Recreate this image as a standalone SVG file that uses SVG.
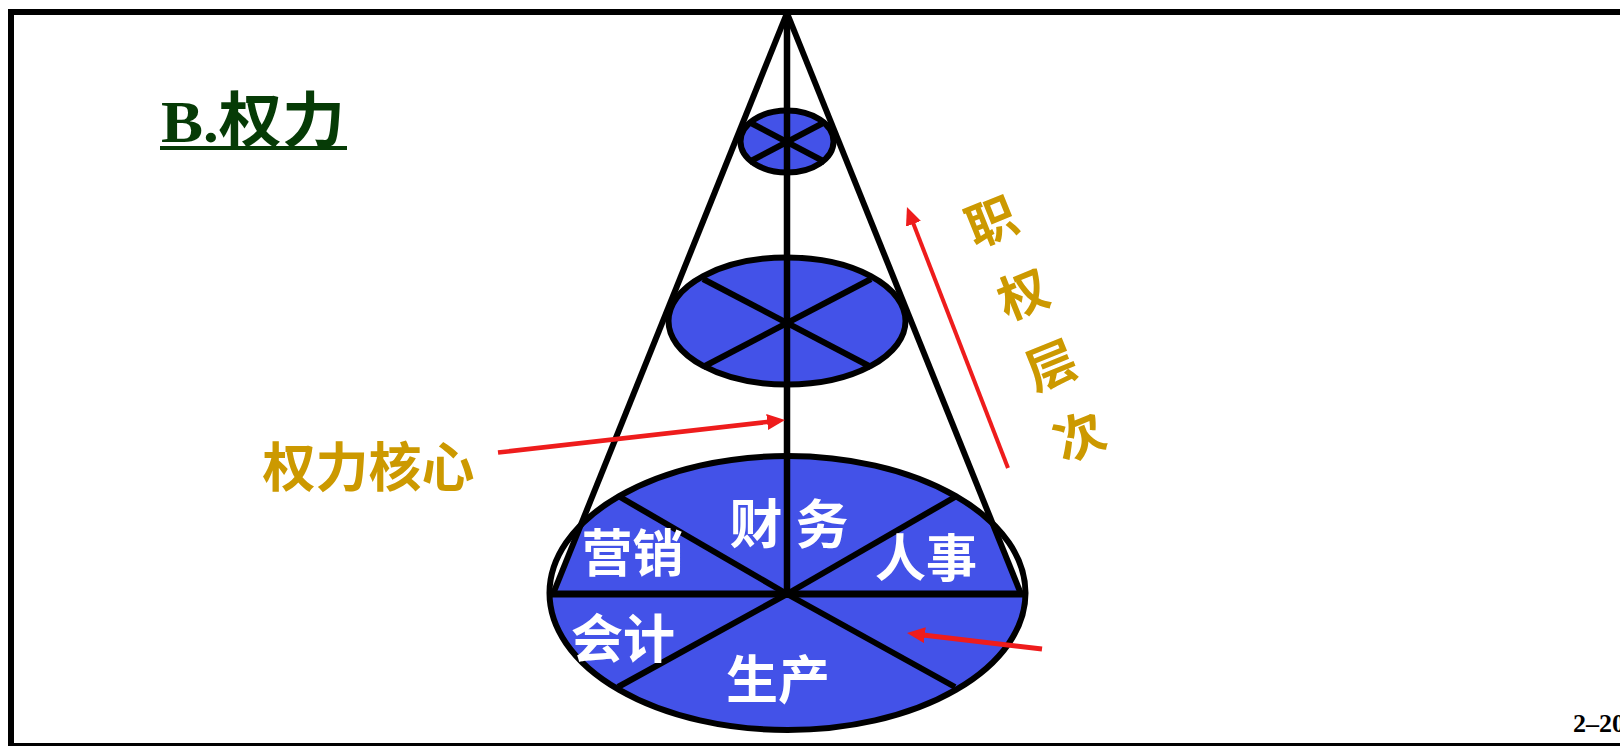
<svg xmlns="http://www.w3.org/2000/svg" width="1620" height="746" viewBox="0 0 1620 746">
<style>
.ol{stroke:#000;stroke-width:6;fill:none;stroke-linecap:butt}
.fill{fill:#4352E8}
.wt{font-family:"Noto Sans CJK SC","Noto Sans",sans-serif;font-weight:bold;fill:#FFFFFF;text-anchor:middle}
.gd{font-family:"Noto Sans CJK SC","Noto Sans",sans-serif;font-weight:bold;fill:#CC9900;text-anchor:middle}
.ar{stroke:#EE1C1C;fill:none}
</style>
<defs>
<marker id="ah" viewBox="0 0 18 16" refX="6" refY="8" markerWidth="18" markerHeight="16" markerUnits="userSpaceOnUse" orient="auto">
<path d="M0,0 L18,8 L0,16 z" fill="#EE1C1C"/>
</marker>
<clipPath id="coneclip">
<polygon points="787,10 553,594 530,594 530,745 1045,745 1045,594 1021,594"/>
</clipPath>
</defs>
<rect x="0" y="0" width="1620" height="746" fill="#FFFFFF"/>
<rect x="11" y="12" width="1625" height="734" fill="none" stroke="#000" stroke-width="6"/>

<g id="title">
<text x="161" y="142" font-family="'Liberation Serif','Noto Sans CJK SC',serif" font-weight="bold" font-size="60" fill="#063B06" textLength="184" lengthAdjust="spacingAndGlyphs">B.权力</text>
<line x1="160" y1="148" x2="347" y2="148" stroke="#063B06" stroke-width="4"/>
</g>

<g id="base-ellipse">
<ellipse cx="787.5" cy="593" rx="238" ry="137" class="fill" clip-path="url(#coneclip)"/>
<ellipse cx="787.5" cy="593" rx="238" ry="137" class="ol"/>
<line x1="549" y1="594" x2="1026" y2="594" stroke="#000" stroke-width="7"/>
<line x1="787" y1="594" x2="620" y2="497" class="ol"/>
<line x1="787" y1="594" x2="955" y2="497" class="ol"/>
<line x1="787" y1="594" x2="618" y2="687" class="ol"/>
<line x1="787" y1="594" x2="955" y2="687" class="ol"/>
</g>

<g id="mid-ellipse">
<ellipse cx="787" cy="321" rx="118.5" ry="63.5" class="ol" style="fill:#4352E8"/>
<line x1="703" y1="279" x2="871" y2="367" class="ol"/>
<line x1="871" y1="279" x2="703" y2="367" class="ol"/>
</g>

<g id="top-ellipse">
<ellipse cx="787" cy="141.5" rx="46.5" ry="31" class="ol" style="fill:#4352E8"/>
<line x1="749" y1="122" x2="825" y2="162" class="ol"/>
<line x1="825" y1="122" x2="749" y2="162" class="ol"/>
</g>

<g id="cone">
<line x1="787" y1="13" x2="553" y2="594" class="ol"/>
<line x1="787" y1="13" x2="1021" y2="594" class="ol"/>
<line x1="787" y1="13" x2="787" y2="598" stroke="#000" stroke-width="6.5"/>
</g>

<g id="sectors">
<text class="wt" x="632.5" y="572" font-size="51">营销</text>
<text class="wt" x="756" y="544" font-size="53">财</text>
<text class="wt" x="822" y="544" font-size="53">务</text>
<text class="wt" x="926" y="577" font-size="51">人事</text>
<text class="wt" x="623" y="658" font-size="52">会计</text>
<text class="wt" x="778" y="699" font-size="52">生产</text>
</g>

<g id="label-core">
<text class="gd" x="368.5" y="487" font-size="53">权力核心</text>
</g>

<g id="label-levels" font-size="50">
<text class="gd" x="990" y="218" dominant-baseline="central" transform="rotate(-22 990 218)">职</text>
<text class="gd" x="1022" y="291" dominant-baseline="central" transform="rotate(-22 1022 291)">权</text>
<text class="gd" x="1050" y="362" dominant-baseline="central" transform="rotate(-22 1050 362)">层</text>
<text class="gd" x="1078" y="433" dominant-baseline="central" transform="rotate(-22 1078 433)">次</text>
</g>

<g id="connectors">
<line x1="498" y1="452.5" x2="773.1" y2="421.35" class="ar" stroke-width="4.5" marker-end="url(#ah)"/>
<line x1="1008" y1="468" x2="911.3" y2="218.2" class="ar" stroke-width="4" marker-end="url(#ah)"/>
<line x1="1042" y1="649" x2="918.9" y2="634.4" class="ar" stroke-width="5" marker-end="url(#ah)"/>
</g>

<g id="page-number">
<text x="1573" y="732" font-family="'Liberation Serif',serif" font-weight="bold" font-size="26" fill="#000">2–20</text>
</g>
</svg>
